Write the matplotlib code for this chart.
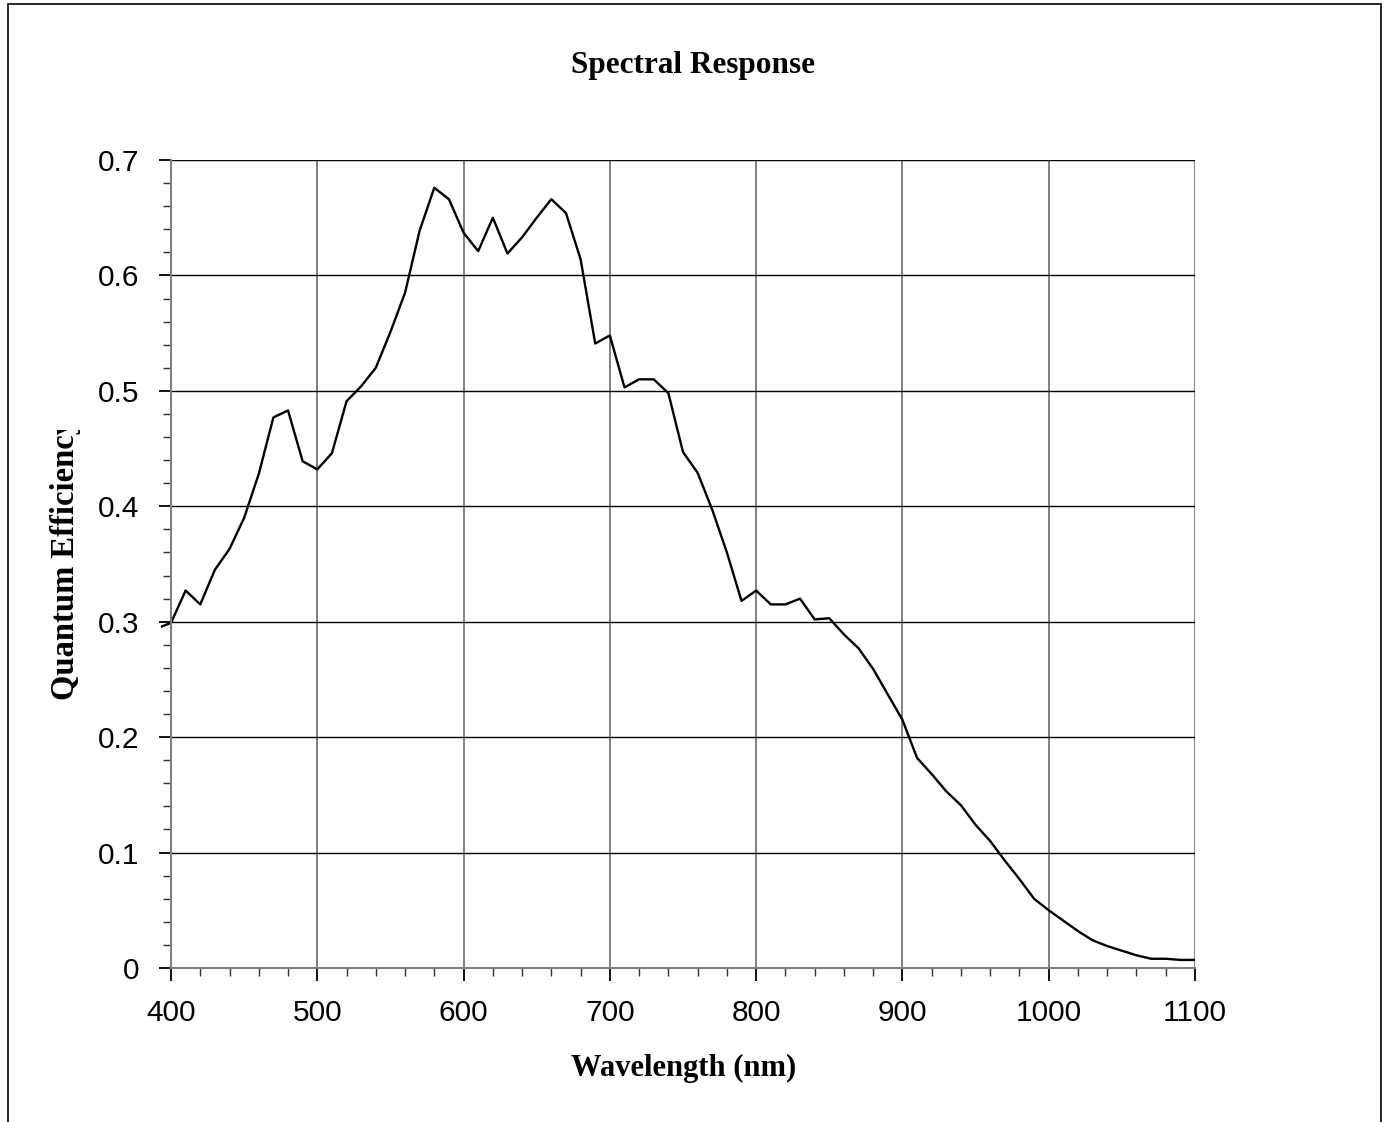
import numpy as np
import matplotlib
matplotlib.use("Agg")
import matplotlib.pyplot as plt
from matplotlib.patches import Rectangle
from matplotlib.transforms import Bbox, TransformedBbox
from matplotlib.ticker import MultipleLocator

# wavelength (nm) and quantum efficiency
wavelength = [390, 400, 410, 420, 430, 440, 450, 460, 470, 480, 490,
              500, 510, 520, 530, 540, 550, 560, 570, 580, 590,
              600, 610, 620, 630, 640, 650, 660, 670, 680, 690,
              700, 710, 720, 730, 740, 750, 760, 770, 780, 790,
              800, 810, 820, 830, 840, 850, 860, 870, 880, 890,
              900, 910, 920, 930, 940, 950, 960, 970, 980, 990,
              1000, 1010, 1020, 1030, 1040, 1050, 1060, 1070, 1080, 1090,
              1100]
qe = [0.294, 0.299, 0.327, 0.315, 0.345, 0.363, 0.390, 0.428, 0.477, 0.483, 0.439,
      0.432, 0.446, 0.491, 0.504, 0.520, 0.551, 0.585, 0.639, 0.676, 0.666,
      0.637, 0.621, 0.650, 0.619, 0.633, 0.650, 0.666, 0.654, 0.614, 0.541,
      0.548, 0.503, 0.510, 0.510, 0.498, 0.447, 0.429, 0.397, 0.360, 0.318,
      0.327, 0.315, 0.315, 0.320, 0.302, 0.303, 0.289, 0.277, 0.259, 0.237,
      0.215, 0.182, 0.168, 0.153, 0.141, 0.124, 0.110, 0.093, 0.077, 0.060,
      0.050, 0.041, 0.032, 0.024, 0.019, 0.015, 0.011, 0.008, 0.008, 0.007,
      0.007]

W, H = 1385, 1122
fig = plt.figure(figsize=(W / 100, H / 100), dpi=100)
ax = fig.add_axes([171 / W, 1 - 968 / H, (1195 - 171) / W, (968 - 160) / H])

serif = ["Liberation Serif", "DejaVu Serif"]
sans = ["Liberation Sans", "DejaVu Sans"]

line, = ax.plot(wavelength, qe, color="black", lw=1.7)
# the original curve pokes a little past the left axis
clip = TransformedBbox(Bbox([[-0.0095, 0], [1, 1]]), ax.transAxes)
line.set_clip_box(clip)

ax.set_xlim(400, 1100)
ax.set_ylim(0, 0.7)
ax.xaxis.set_major_locator(MultipleLocator(100))
ax.xaxis.set_minor_locator(MultipleLocator(20))
ax.yaxis.set_minor_locator(MultipleLocator(0.02))
ax.set_yticks(np.arange(0, 0.71, 0.1))
ax.set_yticklabels(["0", "0.1", "0.2", "0.3", "0.4", "0.5", "0.6", "0.7"])

ax.grid(True, axis="y", which="major", color="black", lw=1.0)
ax.grid(True, axis="x", which="major", color="#808080", lw=1.4)
ax.set_axisbelow(True)

for s in ["top", "right"]:
    ax.spines[s].set_visible(False)
for s in ["left", "bottom"]:
    ax.spines[s].set_color("#808080")
    ax.spines[s].set_linewidth(1.5)

ax.tick_params(axis="both", which="major", direction="out", length=9,
               width=1.3, color="black", labelsize=21.5, pad=14)
ax.tick_params(axis="both", which="minor", direction="out", length=6,
               width=1.0, color="#303030")
ax.tick_params(axis="x", which="major", pad=13)
for lab in ax.get_xticklabels() + ax.get_yticklabels():
    lab.set_family(sans)

fig.text(693 / W, 1 - 66 / H, "Spectral Response", family=serif,
         fontweight="bold", fontsize=22.5, ha="center", va="center")
fig.text(684 / W, 1 - 1068 / H, "Wavelength (nm)", family=serif,
         fontweight="bold", fontsize=22, ha="center", va="center")
ylab = fig.text(66 / W, 1 - 559 / H, "Quantum Efficiency", family=serif,
                fontweight="bold", fontsize=23.5, ha="center", va="center",
                rotation=90)
# label is cut off at the top in the original
ylab.set_clip_on(True)
ylab.set_clip_box(TransformedBbox(Bbox([[0, 0], [1, 1 - 430 / H]]),
                                  fig.transFigure))

# outer chart border
fig.patches.append(Rectangle((8 / W, -0.05), (1381 - 8) / W, 1.05 - 4 / H,
                             transform=fig.transFigure, fill=False,
                             edgecolor="black", lw=1.2))

fig.savefig("out.png", dpi=100)
